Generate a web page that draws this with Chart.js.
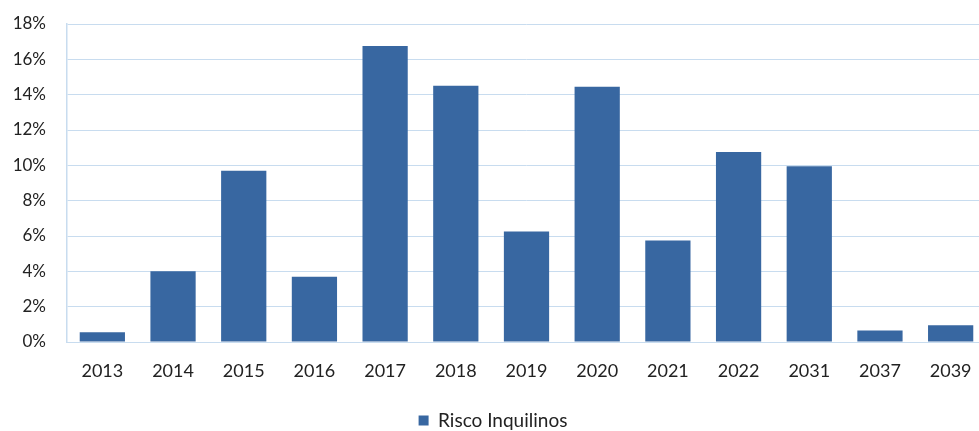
<!DOCTYPE html>
<html>
<head>
<meta charset="utf-8">
<script src="https://cdn.jsdelivr.net/npm/chart.js@4"></script>
<style>
  html, body { margin: 0; padding: 0; background: #fff; overflow: hidden; }
  #wrap { width: 990px; height: 431px; }
</style>
</head>
<body>
<div id="wrap"><canvas id="graficoRisco"></canvas></div>
<script>
const anos = ['2013', '2014', '2015', '2016', '2017', '2018', '2019', '2020', '2021', '2022', '2031', '2037', '2039'];
const riscoInquilinos = [0.55, 4.0, 9.7, 3.7, 16.75, 14.5, 6.25, 14.45, 5.75, 10.75, 9.95, 0.65, 0.95];
const ticksY = [0, 2, 4, 6, 8, 10, 12, 14, 16, 18];

const corBarra = '#3867a1';
const corGrade = '#c8dcef';
const fonte = 'Lato, "Open Sans", sans-serif';

const graficoRisco = document.getElementById('graficoRisco');

new Chart(graficoRisco, {
    type: 'bar',
    data: {
        labels: anos,
        datasets: [{
            label: 'Risco Inquilinos',
            data: riscoInquilinos,
            backgroundColor: corBarra,
            borderWidth: 0,
            categoryPercentage: 0.64,
            barPercentage: 1
        }]
    },
    options: {
        responsive: true,
        maintainAspectRatio: false,
        animation: false,
        layout: { padding: { top: 24, right: 4, bottom: -9, left: 0 } },
        plugins: {
            tooltip: { enabled: false },
            legend: {
                position: 'bottom',
                labels: {
                    color: '#222',
                    font: { family: fonte, size: 19 },
                    boxWidth: 10,
                    boxHeight: 10,
                    padding: 1
                }
            }
        },
        scales: {
            x: {
                grid: { display: false },
                border: { color: corGrade, width: 1 },
                ticks: {
                    color: '#222',
                    font: { family: fonte, size: 18 },
                    padding: 10,
                    maxRotation: 0
                },
                afterFit: (escala) => { escala.height = 68; }
            },
            y: {
                min: 0,
                max: 18,
                afterBuildTicks: (escala) => { escala.ticks = ticksY.map(v => ({ value: v })); },
                grid: { color: corGrade, drawTicks: false },
                border: { color: corGrade, width: 1.5 },
                ticks: {
                    color: '#222',
                    font: { family: fonte, size: 17 },
                    padding: 21,
                    callback: (v) => v + '%'
                },
                afterFit: (escala) => {
                    escala.width = 67;
                    escala.paddingTop = 0;
                    escala.paddingBottom = 0;
                }
            }
        }
    }
});
</script>
</body>
</html>
